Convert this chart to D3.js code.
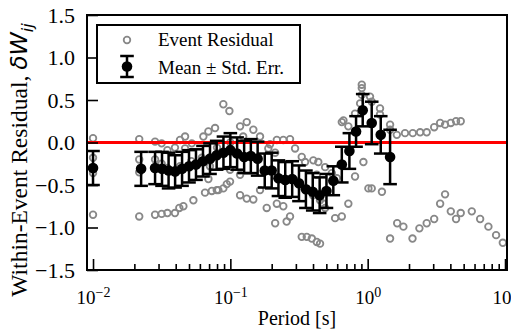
<!DOCTYPE html>
<html>
<head>
<meta charset="utf-8">
<script src="https://cdn.jsdelivr.net/npm/d3@7/dist/d3.min.js"></script>
<style>
  body { margin: 0; background: #fff; }
  svg text { font-family: "Liberation Serif", "Times New Roman", serif; fill: #000; }
</style>
</head>
<body>
<svg id="chart" width="511" height="334"></svg>
<script>
// mean within-event residual and its standard error, per period [s]
const meanPeriods = [0.01, 0.0224, 0.0283, 0.0318, 0.0355, 0.0396, 0.0445, 0.050, 0.0562, 0.0632,
  0.0711, 0.0795, 0.0891, 0.1, 0.112, 0.126, 0.141, 0.158, 0.178, 0.2,
  0.224, 0.251, 0.282, 0.316, 0.355, 0.398, 0.447, 0.501, 0.562, 0.648,
  0.736, 0.823, 0.92, 1.07, 1.245, 1.456];
const meanResid = [-0.30, -0.31, -0.30, -0.31, -0.33, -0.34, -0.31, -0.28, -0.26, -0.22,
  -0.19, -0.15, -0.12, -0.09, -0.13, -0.17, -0.16, -0.19, -0.33, -0.33,
  -0.42, -0.44, -0.43, -0.48, -0.55, -0.58, -0.62, -0.57, -0.45, -0.26,
  -0.10, 0.13, 0.38, 0.23, 0.09, -0.17];
const stdErr = [0.20, 0.20, 0.19, 0.20, 0.21, 0.19, 0.20, 0.19, 0.18, 0.18,
  0.18, 0.17, 0.19, 0.20, 0.19, 0.19, 0.20, 0.20, 0.20, 0.21,
  0.21, 0.21, 0.21, 0.21, 0.22, 0.22, 0.21, 0.20, 0.17, 0.21,
  0.21, 0.18, 0.19, 0.25, 0.22, 0.32];

// individual event residuals: [period, residual]
const eventResid = [
  [0.01, 0.05], [0.01, -0.85], [0.01, -0.18], [0.01, -0.36],
  [0.0217, 0.04], [0.0217, -0.87], [0.0217, -0.20], [0.0217, -0.35],
  [0.0283, 0.01], [0.0283, -0.85], [0.0283, -0.20],
  [0.0316, -0.01], [0.0316, -0.84], [0.0316, -0.25],
  [0.0348, -0.09], [0.0348, -0.83], [0.0348, -0.30],
  [0.0395, -0.06], [0.0395, -0.83], [0.0395, -0.35],
  [0.043, 0.03], [0.0425, -0.77], [0.043, -0.28],
  [0.0468, -0.07], [0.0468, 0.07], [0.0455, -0.75],
  [0.0524, -0.01], [0.0538, -0.68], [0.052, -0.22],
  [0.0636, 0.07], [0.0654, -0.59], [0.062, -0.18],
  [0.0692, 0.13], [0.0692, -0.43], [0.0733, -0.57], [0.071, -0.28],
  [0.0774, 0.17], [0.0796, -0.56], [0.0818, -0.56], [0.08, -0.06],
  [0.0889, 0.45], [0.0889, -0.54], [0.09, -0.12],
  [0.0942, -0.49], [0.0984, 0.37], [0.0995, -0.46], [0.0995, -0.32], [0.1, 0.0],
  [0.1177, 0.19], [0.1177, -0.62], [0.1177, -0.38], [0.124, 0.07],
  [0.1316, 0.24], [0.1316, -0.66], [0.147, 0.15], [0.147, -0.67],
  [0.1645, 0.07], [0.1645, -0.56], [0.184, -0.77], [0.189, -0.07], [0.1945, -0.02],
  [0.212, -0.95], [0.212, -0.12], [0.218, 0.03], [0.218, -0.72],
  [0.243, 0.03], [0.243, -0.75], [0.257, -0.93], [0.272, 0.04], [0.272, -0.87],
  [0.296, -0.07], [0.30, -0.45], [0.331, -0.17], [0.331, -1.11], [0.35, -0.23],
  [0.36, -1.11], [0.36, -0.55], [0.392, -1.13], [0.402, -0.21], [0.40, -0.62],
  [0.426, -1.17], [0.426, -0.38], [0.437, -0.23], [0.45, -1.19], [0.45, -0.68],
  [0.475, -0.72], [0.49, -0.77], [0.49, -0.29], [0.548, -0.36], [0.579, -0.89],
  [0.596, -0.42], [0.648, 0.24], [0.648, -0.87], [0.666, 0.26], [0.723, 0.19],
  [0.723, -0.72], [0.809, 0.34], [0.809, -0.40], [0.881, 0.46], [0.906, 0.56],
  [0.906, 0.68], [0.906, 0.64], [0.931, -0.23], [1.012, -0.54], [1.04, 0.54],
  [1.07, 0.48], [1.07, -0.54], [1.23, 0.40], [1.23, 0.33], [1.27, -0.58],
  [1.456, 0.21], [1.456, 0.15], [1.456, -1.13],
  [1.63, 0.09], [1.87, 0.11], [2.13, 0.11], [2.41, 0.12], [2.69, 0.12], [3.05, 0.18],
  [3.37, 0.23], [3.66, 0.21], [4.03, 0.23], [4.40, 0.25], [4.76, 0.25],
  [1.64, -0.95], [1.82, -0.99], [2.12, -1.13], [2.38, -1.01], [2.69, -0.95], [3.05, -0.90],
  [3.37, -0.72], [3.66, -0.61], [4.03, -0.81], [4.40, -0.90], [4.76, -0.83], [5.73, -0.81],
  [6.59, -0.90], [7.57, -0.99], [8.61, -1.09], [9.64, -1.18]
];

const yTicks = [-1.5, -1.0, -0.5, 0.0, 0.5, 1.0, 1.5];
const xMajorTicks = [0.01, 0.1, 1, 10];
const xTickExps = ["\u22122", "\u22121", "0", "1"];

const svg = d3.select("#chart");
const plotL = 87, plotR = 507, plotT = 15, plotB = 270;

const x = d3.scaleLog().domain([0.00904, 10.34]).range([plotL, plotR]);
const y = d3.scaleLinear().domain([-1.5, 1.5]).range([plotB, plotT]);

// grey event residuals
svg.append("g").selectAll("circle")
  .data(eventResid)
  .enter().append("circle")
  .attr("cx", d => x(d[0]))
  .attr("cy", d => y(d[1]))
  .attr("r", 3.3)
  .style("fill", "none")
  .style("stroke", "#888")
  .style("stroke-width", 1.8);

// zero line
svg.append("line")
  .attr("x1", plotL).attr("x2", plotR)
  .attr("y1", y(0)).attr("y2", y(0))
  .style("stroke", "#ff0000")
  .style("stroke-width", 3);

// mean +- std err
const means = meanPeriods.map((p, i) => ({p: p, m: meanResid[i], e: stdErr[i]}));
const eb = svg.append("g").selectAll("g")
  .data(means)
  .enter().append("g");
eb.append("line")
  .attr("x1", d => x(d.p)).attr("x2", d => x(d.p))
  .attr("y1", d => y(d.m - d.e)).attr("y2", d => y(d.m + d.e))
  .style("stroke", "#000").style("stroke-width", 2.5);
eb.selectAll(".cap")
  .data(d => [d.m - d.e, d.m + d.e].map(v => ({p: d.p, v: v})))
  .enter().append("line")
  .attr("class", "cap")
  .attr("x1", d => x(d.p) - 6.8).attr("x2", d => x(d.p) + 6.8)
  .attr("y1", d => y(d.v)).attr("y2", d => y(d.v))
  .style("stroke", "#000").style("stroke-width", 2.5);
eb.append("circle")
  .attr("cx", d => x(d.p))
  .attr("cy", d => y(d.m))
  .attr("r", 5.3)
  .style("fill", "#000");

// axes, ticks pointing inwards
const xAxis = svg.append("g")
  .attr("transform", "translate(0," + plotB + ")")
  .call(d3.axisBottom(x).tickValues(xMajorTicks).tickSize(-11).tickPadding(10).tickFormat(""));
xAxis.selectAll(".tick text").each(function(d, i) {
  const t = d3.select(this).attr("dy", "1.25em").style("font-size", "19px");
  t.append("tspan").text("10");
  t.append("tspan").attr("dy", "-0.5em").style("font-size", "14px").text(xTickExps[i]);
});
const minor = x.ticks().filter(v => xMajorTicks.indexOf(v) < 0);
svg.append("g")
  .attr("transform", "translate(0," + plotB + ")")
  .call(d3.axisBottom(x).tickValues(minor).tickSize(-6).tickFormat(""))
  .select(".domain").remove();

const yAxis = svg.append("g")
  .attr("transform", "translate(" + plotL + ",0)")
  .call(d3.axisLeft(y).tickValues(yTicks).tickSize(-11).tickPadding(12).tickFormat(d3.format(".1f")));
yAxis.selectAll(".tick text").style("font-size", "22px");

svg.selectAll(".domain").remove();
svg.selectAll(".tick line").style("stroke", "#000").style("stroke-width", 1.6);

// frame
svg.append("rect")
  .attr("x", plotL).attr("y", plotT)
  .attr("width", plotR - plotL).attr("height", plotB - plotT)
  .style("fill", "none").style("stroke", "#000").style("stroke-width", 2);

// axis labels
svg.append("text")
  .attr("x", (plotL + plotR) / 2).attr("y", 325)
  .style("text-anchor", "middle").style("font-size", "20px")
  .text("Period [s]");

const yl = svg.append("text")
  .attr("transform", "translate(27,160) rotate(-90)")
  .style("text-anchor", "middle").style("font-size", "23.5px");
yl.append("tspan").text("Within-Event Residual, ");
yl.append("tspan").style("font-family", "DejaVu Sans").style("font-style", "italic").text("\u03B4W");
yl.append("tspan").style("font-family", "DejaVu Sans").style("font-style", "italic")
  .style("font-size", "16px").attr("dy", "6").text("ij");

// legend
const lg = svg.append("g");
lg.append("rect")
  .attr("x", 97).attr("y", 25).attr("width", 203).attr("height", 58)
  .style("fill", "#fff").style("stroke", "#000").style("stroke-width", 2);
lg.append("circle")
  .attr("cx", 127).attr("cy", 40).attr("r", 3.3)
  .style("fill", "none").style("stroke", "#888").style("stroke-width", 1.8);
lg.append("text").attr("x", 158).attr("y", 46).style("font-size", "19px").text("Event Residual");
lg.append("line").attr("x1", 127).attr("x2", 127).attr("y1", 56).attr("y2", 77)
  .style("stroke", "#000").style("stroke-width", 2.5);
[56, 77].forEach(v => {
  lg.append("line").attr("x1", 120.2).attr("x2", 133.8).attr("y1", v).attr("y2", v)
    .style("stroke", "#000").style("stroke-width", 2.5);
});
lg.append("circle").attr("cx", 127).attr("cy", 66.5).attr("r", 5.3).style("fill", "#000");
lg.append("text").attr("x", 158).attr("y", 74).style("font-size", "19px").text("Mean \u00B1 Std. Err.");
</script>
</body>
</html>
